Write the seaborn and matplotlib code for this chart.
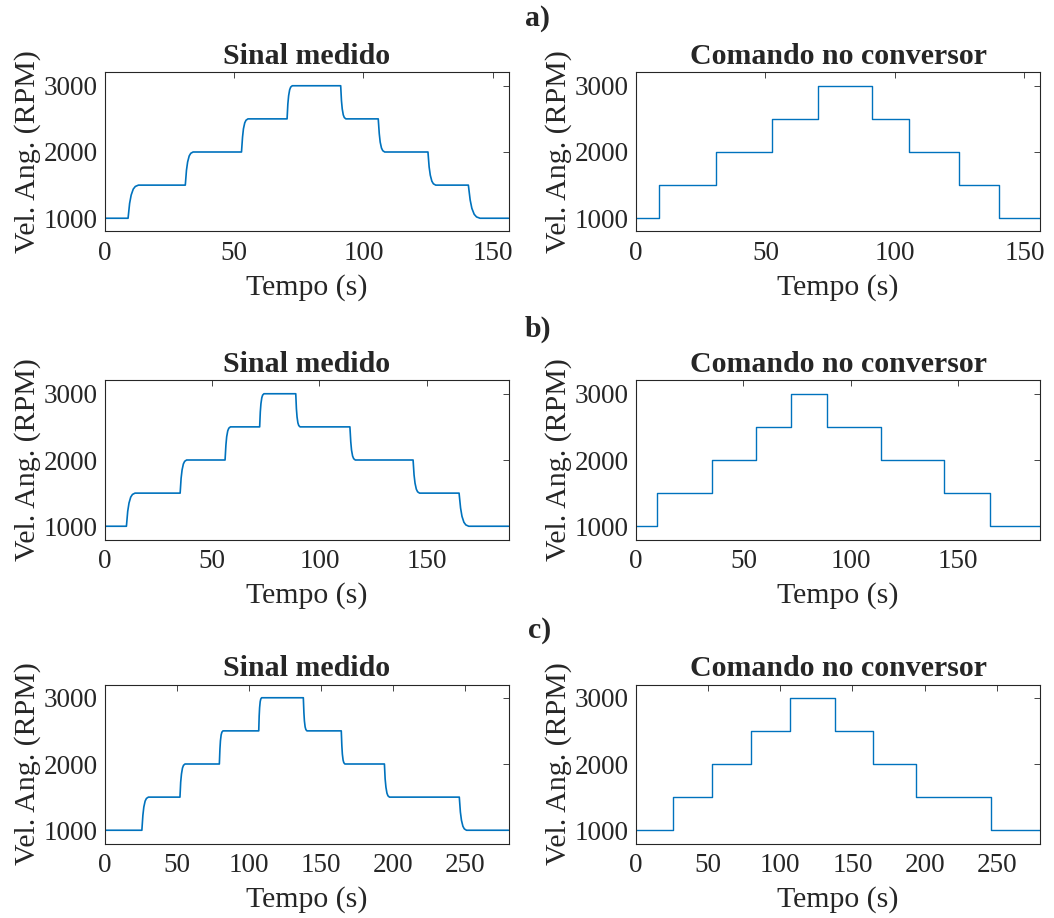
import matplotlib
matplotlib.use("Agg")
import matplotlib.pyplot as plt
import seaborn as sns
import pandas as pd

# ---------------- data ----------------
panel_labels = ["a)", "b)", "c)"]
titles = ["Sinal medido", "Comando no conversor"]
xlabel = "Tempo (s)"
ylabel = "Vel. Ang. (RPM)"
yticks = [1000, 2000, 3000]

# command levels (steps-post)
cmd_levels = [1000, 1500, 2000, 2500, 3000, 2500, 2000, 1500, 1000, 1000]
cmd_t_a = [0, 8.9, 30.9, 52.6, 70.4, 91.0, 105.4, 124.8, 140.3, 156]
cmd_t_b = [0, 9.9, 35.2, 55.9, 72.0, 88.7, 114.0, 143.3, 164.7, 188]
cmd_t_c = [0, 25.8, 52.4, 79.4, 107.0, 138.0, 164.2, 194.2, 246.2, 280]

xmax = [156, 188, 280]
xticks = [[0, 50, 100, 150], [0, 50, 100, 150], [0, 50, 100, 150, 200, 250]]

meas_rpm = [1000,
            1000, 1225, 1350, 1440, 1480, 1500,
            1500, 1725, 1850, 1940, 1980, 2000,
            2000, 2225, 2350, 2440, 2480, 2500,
            2500, 2725, 2850, 2940, 2980, 3000,
            3000, 2775, 2650, 2560, 2520, 2500,
            2500, 2275, 2150, 2060, 2020, 2000,
            2000, 1775, 1650, 1560, 1520, 1500,
            1500, 1275, 1150, 1060, 1020, 1000,
            1000]
meas_t_a = [0,
            9.1, 9.7, 10.3, 11.1, 11.9, 13.1,
            31.2, 31.65, 32.1, 32.7, 33.3, 34.2,
            52.9, 53.3, 53.65, 54.15, 54.65, 55.4,
            70.5, 70.8, 71.1, 71.5, 71.9, 72.5,
            91.2, 91.5, 91.8, 92.2, 92.6, 93.2,
            105.7, 106.1, 106.45, 106.95, 107.45, 108.2,
            124.9, 125.35, 125.8, 126.4, 127.0, 127.9,
            140.5, 141.2, 141.85, 142.75, 143.65, 145.0,
            156]
meas_t_b = [0,
            10.2, 10.8, 11.4, 12.2, 13.0, 14.2,
            35.2, 35.65, 36.1, 36.7, 37.3, 38.2,
            56.1, 56.5, 56.85, 57.35, 57.85, 58.6,
            72.2, 72.5, 72.8, 73.2, 73.6, 74.2,
            89.0, 89.3, 89.6, 90.0, 90.4, 91.0,
            114.2, 114.6, 114.95, 115.45, 115.95, 116.7,
            143.6, 144.05, 144.5, 145.1, 145.7, 146.6,
            165.0, 165.7, 166.35, 167.25, 168.15, 169.5,
            188]
meas_t_c = [0,
            25.9, 26.6, 27.25, 28.15, 29.05, 30.4,
            52.3, 52.8, 53.35, 54.05, 54.75, 55.8,
            79.6, 80.0, 80.35, 80.85, 81.35, 82.1,
            106.9, 107.2, 107.5, 107.9, 108.3, 108.9,
            137.8, 138.2, 138.55, 139.05, 139.55, 140.3,
            164.1, 164.5, 164.85, 165.35, 165.85, 166.6,
            194.0, 194.5, 195.05, 195.75, 196.45, 197.5,
            245.9, 246.65, 247.4, 248.4, 249.4, 250.9,
            280]

meas_t = [meas_t_a, meas_t_b, meas_t_c]
cmd_t = [cmd_t_a, cmd_t_b, cmd_t_c]

# ---------------- style ----------------
sns.set_style("white")
plt.rcParams["font.family"] = ["Liberation Serif", "DejaVu Serif"]
plt.rcParams["axes.edgecolor"] = "#262626"
plt.rcParams["axes.linewidth"] = 0.8

LINE = "#0072BD"
FS_TICK = 19.5
FS_LAB = 21.5

fig = plt.figure(figsize=(10.54, 9.18), dpi=100)
W, H = 1054, 918

col_x = [104.5, 636.0]
ax_w = 404.0
row_top = [72.5, 380.5, 684.5]
ax_h = 159.0
label_xy = [(538, 19), (538, 329), (540, 631)]

for r in range(3):
    fig.text(label_xy[r][0] / W, 1 - label_xy[r][1] / H, panel_labels[r],
             ha="center", va="center", fontsize=FS_LAB, fontweight="bold")
    for c in range(2):
        ax = fig.add_axes([col_x[c] / W, 1 - (row_top[r] + ax_h) / H, ax_w / W, ax_h / H])
        if c == 0:
            df = pd.DataFrame({"t": meas_t[r], "rpm": meas_rpm})
            sns.lineplot(data=df, x="t", y="rpm", ax=ax, color=LINE, lw=1.2,
                         estimator=None, sort=False)
        else:
            df = pd.DataFrame({"t": cmd_t[r], "rpm": cmd_levels})
            sns.lineplot(data=df, x="t", y="rpm", ax=ax, color=LINE, lw=1.0,
                         estimator=None, sort=False, drawstyle="steps-post")
        ax.set_xlim(0, xmax[r])
        ax.set_ylim(800, 3200)
        ax.set_xticks(xticks[r])
        ax.set_yticks(yticks)
        ax.tick_params(direction="in", top=True, right=True, length=4, width=0.6,
                       labelsize=FS_TICK, colors="#262626", pad=5)
        ax.tick_params(axis="x", pad=7)
        ax.set_xlabel(xlabel, fontsize=FS_LAB, color="#262626", labelpad=5.5)
        ax.set_ylabel(ylabel, fontsize=FS_LAB, color="#262626", labelpad=2)
        ax.set_title(titles[c], fontsize=FS_LAB, fontweight="bold", pad=6)
        for s in ax.spines.values():
            s.set_visible(True)

fig.savefig("out.png", dpi=100)
